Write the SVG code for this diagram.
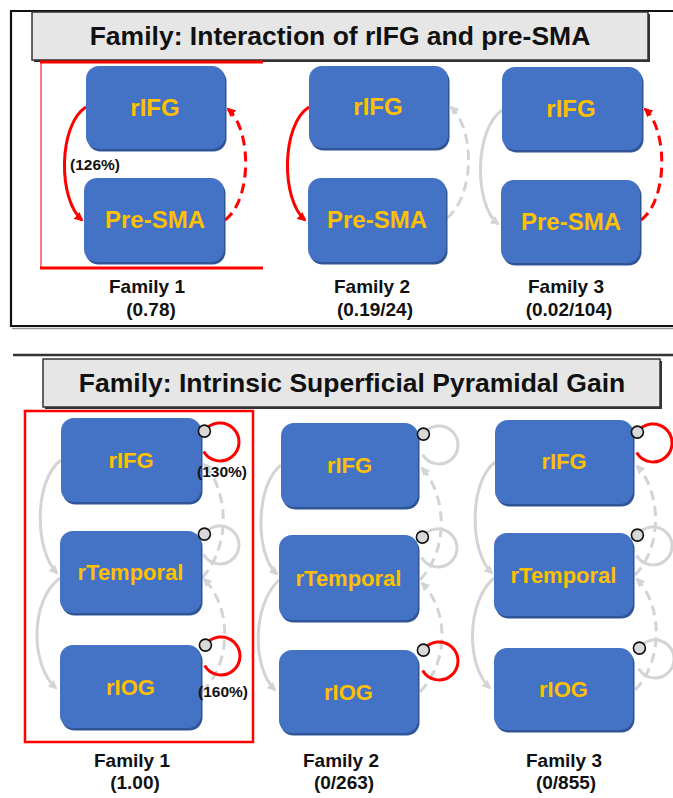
<svg xmlns="http://www.w3.org/2000/svg" width="673" height="798" viewBox="0 0 673 798">
  <style>
    .frame { stroke: #111; stroke-width: 2.2; fill: none; }
    .title-box { fill: #e6e6e6; stroke: #333; stroke-width: 1.5; }
    .title-shadow { fill: #333; }
    .title { font-family: "Liberation Sans", Arial, sans-serif; font-weight: bold; font-size: 26.5px; fill: #111; text-anchor: middle; }
    .node { fill: #4472c4; }
    .node-shadow { fill: #2f5597; }
    .nlabel { font-family: "Liberation Sans", Arial, sans-serif; font-weight: bold; fill: #ffc000; text-anchor: middle; }
    .big { font-size: 24px; }
    .small { font-size: 22px; }
    .fam { font-family: "Liberation Sans", Arial, sans-serif; font-weight: bold; font-size: 19px; fill: #111; text-anchor: middle; }
    .pct { font-family: "Liberation Sans", Arial, sans-serif; font-weight: bold; font-size: 15.5px; fill: #111; text-anchor: middle; }
    .red { stroke: #ff0000; stroke-width: 3; fill: none; }
    .gray { stroke: #d4d4d4; stroke-width: 3; fill: none; }
    .dash { stroke-dasharray: 10 6; }
    .arr-r { marker-end: url(#ah-red); }
    .arr-g { marker-end: url(#ah-gray); }
    .dot { fill: #d9d9d9; stroke: #111; stroke-width: 1.6; }
  </style>
  <defs>
    <marker id="ah-red" viewBox="0 0 10 10" refX="8" refY="5" markerWidth="9" markerHeight="9" markerUnits="userSpaceOnUse" orient="auto">
      <path d="M0,0 L10,5 L0,10 z" fill="#ff0000"/>
    </marker>
    <marker id="ah-gray" viewBox="0 0 10 10" refX="8" refY="5" markerWidth="9" markerHeight="9" markerUnits="userSpaceOnUse" orient="auto">
      <path d="M0,0 L10,5 L0,10 z" fill="#d4d4d4"/>
    </marker>
  </defs>

  <rect width="673" height="798" fill="#ffffff"/>

  <!-- upper panel frame -->
  <g id="panel-top">
    <path class="frame" d="M673,11 L11,11 L11,326 L673,326"/>
    <line x1="12" y1="328.5" x2="673" y2="328.5" stroke="#999" stroke-width="1.5"/>
    <rect class="title-shadow" x="34" y="14" width="616" height="48"/>
    <rect class="title-box" x="32" y="12" width="616" height="48"/>
    <text class="title" x="340" y="45">Family: Interaction of rIFG and pre-SMA</text>
    <!-- winning family bracket -->
    <line x1="41" y1="62" x2="41" y2="268" stroke="#ff5050" stroke-width="1.5"/>
    <line x1="40" y1="62" x2="263" y2="62" stroke="#ff0000" stroke-width="3"/>
    <line x1="40" y1="268" x2="263" y2="268" stroke="#ff0000" stroke-width="3"/>
  </g>

  <!-- lower panel frame -->
  <g id="panel-bottom">
    <line x1="13" y1="355" x2="673" y2="355" stroke="#333" stroke-width="2.5"/>
    <rect class="title-shadow" x="45" y="361" width="617" height="48"/>
    <rect class="title-box" x="43" y="359" width="617" height="48"/>
    <text class="title" x="352" y="392">Family: Intrinsic Superficial Pyramidal Gain</text>
    <rect x="25" y="411" width="228" height="331" fill="none" stroke="#ff0000" stroke-width="2.5"/>
  </g>

  <!-- connections -->
  <g id="connectors">
    <!-- upper panel -->
    <path class="red arr-r" d="M86,107 C58,125 58,200 82,220"/>
    <path class="red dash arr-r" d="M225,220 C252,200 252,130 228,109"/>
    <path class="red arr-r" d="M309,107 C281,125 281,200 305,220"/>
    <path class="gray dash arr-g" d="M447,218 C475,195 475,130 451,107"/>
    <path class="gray arr-g" d="M502,110 C474,130 474,205 498,224"/>
    <path class="red dash arr-r" d="M641,220 C668,200 668,130 645,109"/>

    <!-- lower panel, family 1 -->
    <path class="gray arr-g" d="M61,460 C34,480 34,550 57,573"/>
    <path class="gray arr-g" d="M60,578 C30,600 30,665 56,688"/>
    <path class="gray dash arr-g" d="M202,692 C234,660 230,605 204,579"/>
    <path class="gray dash arr-g" d="M202,578 C232,545 228,490 204,464"/>
    <!-- lower panel, family 2 -->
    <path class="gray arr-g" d="M281,465 C255,485 255,555 277,574"/>
    <path class="gray arr-g" d="M279,580 C252,605 252,668 275,690"/>
    <path class="gray dash arr-g" d="M420,692 C450,660 448,610 422,583"/>
    <path class="gray dash arr-g" d="M420,580 C450,548 446,495 422,468"/>
    <!-- lower panel, family 3 -->
    <path class="gray arr-g" d="M495,462 C469,482 469,552 492,573"/>
    <path class="gray arr-g" d="M494,578 C466,602 466,666 490,688"/>
    <path class="gray dash arr-g" d="M635,690 C664,660 662,605 637,579"/>
    <path class="gray dash arr-g" d="M635,575 C664,545 660,490 637,466"/>

    <!-- self connections -->
    <path class="red" d="M204.4,431.1 A19,19 0 1 1 203.6,451.5"/>
    <path class="gray" d="M204.4,534.1 A19,19 0 1 1 203.6,554.5"/>
    <path class="red" d="M205.4,645.1 A19,19 0 1 1 204.6,665.5"/>
    <path class="gray" d="M423.4,434.1 A19,19 0 1 1 422.6,454.5"/>
    <path class="gray" d="M422.4,537.1 A19,19 0 1 1 421.6,557.5"/>
    <path class="red" d="M423.4,650.1 A19,19 0 1 1 422.6,670.5"/>
    <path class="red" d="M637.4,432.1 A19,19 0 1 1 636.6,452.5"/>
    <path class="gray" d="M637.4,535.1 A19,19 0 1 1 636.6,555.5"/>
    <path class="gray" d="M639.4,648.1 A19,19 0 1 1 638.6,668.5"/>
  </g>

  <!-- upper panel nodes -->
  <g id="f1-rIFG">
    <rect class="node-shadow" x="87.5" y="68.5" width="139" height="83" rx="13"/>
    <rect class="node" x="86" y="66" width="139" height="83" rx="13"/>
    <text class="nlabel big" x="155" y="116">rIFG</text>
  </g>
  <g id="f1-preSMA">
    <rect class="node-shadow" x="85.5" y="180.5" width="140" height="84" rx="13"/>
    <rect class="node" x="84" y="178" width="140" height="84" rx="13"/>
    <text class="nlabel big" x="155" y="228">Pre-SMA</text>
  </g>
  <g id="f2-rIFG">
    <rect class="node-shadow" x="310.5" y="68.5" width="139" height="82" rx="13"/>
    <rect class="node" x="309" y="66" width="139" height="82" rx="13"/>
    <text class="nlabel big" x="378" y="115">rIFG</text>
  </g>
  <g id="f2-preSMA">
    <rect class="node-shadow" x="309.5" y="180.5" width="138" height="84" rx="13"/>
    <rect class="node" x="308" y="178" width="138" height="84" rx="13"/>
    <text class="nlabel big" x="377" y="228">Pre-SMA</text>
  </g>
  <g id="f3-rIFG">
    <rect class="node-shadow" x="503.5" y="69.5" width="140" height="83" rx="13"/>
    <rect class="node" x="502" y="67" width="140" height="83" rx="13"/>
    <text class="nlabel big" x="571" y="117">rIFG</text>
  </g>
  <g id="f3-preSMA">
    <rect class="node-shadow" x="502.5" y="182.5" width="139" height="83" rx="13"/>
    <rect class="node" x="501" y="180" width="139" height="83" rx="13"/>
    <text class="nlabel big" x="571" y="230">Pre-SMA</text>
  </g>

  <!-- lower panel nodes -->
  <g id="g1-rIFG">
    <rect class="node-shadow" x="62.5" y="420.5" width="140" height="84" rx="13"/>
    <rect class="node" x="61" y="418" width="140" height="84" rx="13"/>
    <text class="nlabel small" x="131" y="468">rIFG</text>
    <circle class="dot" cx="204.4" cy="431.1" r="6"/>
  </g>
  <g id="g1-rTemporal">
    <rect class="node-shadow" x="61.5" y="533.5" width="141" height="82" rx="13"/>
    <rect class="node" x="60" y="531" width="141" height="82" rx="13"/>
    <text class="nlabel small" x="130.5" y="580">rTemporal</text>
    <circle class="dot" cx="204.4" cy="534.1" r="6"/>
  </g>
  <g id="g1-rIOG">
    <rect class="node-shadow" x="61.5" y="647.5" width="141" height="83" rx="13"/>
    <rect class="node" x="60" y="645" width="141" height="83" rx="13"/>
    <text class="nlabel small" x="130.5" y="695">rIOG</text>
    <circle class="dot" cx="205.4" cy="645.1" r="6"/>
  </g>
  <g id="g2-rIFG">
    <rect class="node-shadow" x="282.5" y="425.5" width="137" height="84" rx="13"/>
    <rect class="node" x="281" y="423" width="137" height="84" rx="13"/>
    <text class="nlabel small" x="349.5" y="473">rIFG</text>
    <circle class="dot" cx="423.4" cy="434.1" r="6"/>
  </g>
  <g id="g2-rTemporal">
    <rect class="node-shadow" x="280.5" y="537.5" width="139" height="85" rx="13"/>
    <rect class="node" x="279" y="535" width="139" height="85" rx="13"/>
    <text class="nlabel small" x="348.5" y="585.5">rTemporal</text>
    <circle class="dot" cx="422.4" cy="537.1" r="6"/>
  </g>
  <g id="g2-rIOG">
    <rect class="node-shadow" x="280.5" y="652.5" width="139" height="83" rx="13"/>
    <rect class="node" x="279" y="650" width="139" height="83" rx="13"/>
    <text class="nlabel small" x="348.5" y="699.5">rIOG</text>
    <circle class="dot" cx="423.4" cy="650.1" r="6"/>
  </g>
  <g id="g3-rIFG">
    <rect class="node-shadow" x="496.5" y="422.5" width="138" height="84" rx="13"/>
    <rect class="node" x="495" y="420" width="138" height="84" rx="13"/>
    <text class="nlabel small" x="564" y="469">rIFG</text>
    <circle class="dot" cx="637.4" cy="432.1" r="6"/>
  </g>
  <g id="g3-rTemporal">
    <rect class="node-shadow" x="495.5" y="535.5" width="139" height="83" rx="13"/>
    <rect class="node" x="494" y="533" width="139" height="83" rx="13"/>
    <text class="nlabel small" x="563.5" y="582.5">rTemporal</text>
    <circle class="dot" cx="637.4" cy="535.1" r="6"/>
  </g>
  <g id="g3-rIOG">
    <rect class="node-shadow" x="495.5" y="650.5" width="139" height="82" rx="13"/>
    <rect class="node" x="494" y="648" width="139" height="82" rx="13"/>
    <text class="nlabel small" x="563.5" y="697">rIOG</text>
    <circle class="dot" cx="639.4" cy="648.1" r="6"/>
  </g>

  <!-- connection strength labels, drawn over the boxes -->
  <g id="edge-labels">
    <text class="pct" x="95" y="170">(126%)</text>
    <text class="pct" x="222" y="477">(130%)</text>
    <text class="pct" x="223" y="697">(160%)</text>
  </g>

  <!-- family captions -->
  <g id="captions">
    <text class="fam" x="147" y="293">Family 1</text>
    <text class="fam" x="151" y="316">(0.78)</text>
    <text class="fam" x="372" y="293">Family 2</text>
    <text class="fam" x="375" y="316">(0.19/24)</text>
    <text class="fam" x="566" y="293">Family 3</text>
    <text class="fam" x="569" y="316">(0.02/104)</text>
    <text class="fam" x="132" y="767">Family 1</text>
    <text class="fam" x="135" y="789">(1.00)</text>
    <text class="fam" x="341" y="767">Family 2</text>
    <text class="fam" x="344" y="789">(0/263)</text>
    <text class="fam" x="564" y="767">Family 3</text>
    <text class="fam" x="566" y="789">(0/855)</text>
  </g>
</svg>
